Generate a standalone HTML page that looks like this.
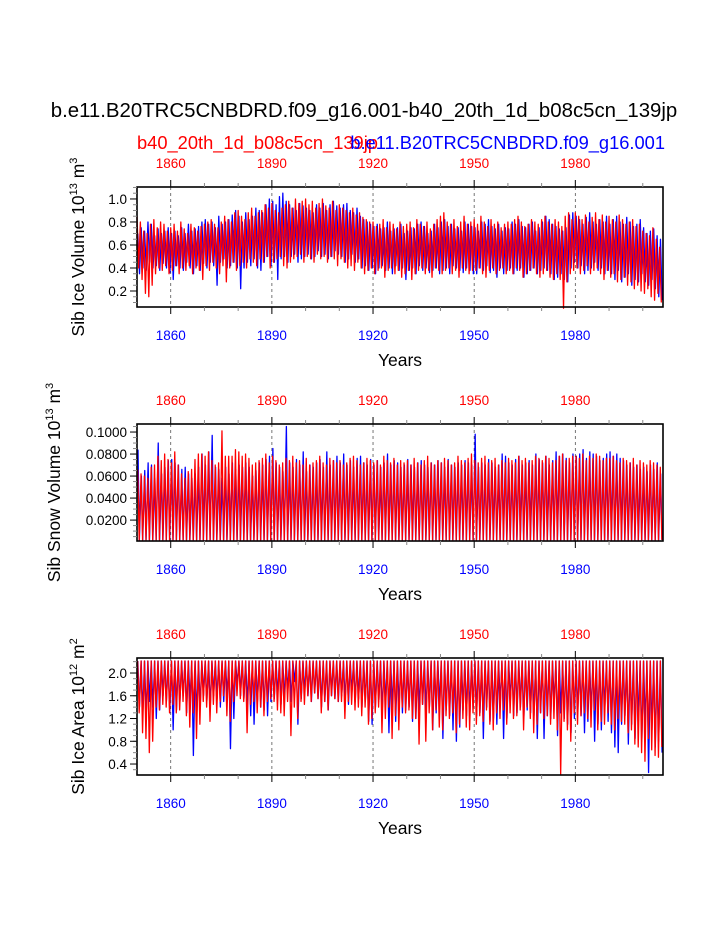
<!DOCTYPE html>
<html><head><meta charset="utf-8"><style>
html,body{margin:0;padding:0;background:#fff;}
svg{display:block;font-family:"Liberation Sans",Arial,sans-serif;}
</style></head><body>
<svg id="chart" width="723" height="935" viewBox="0 0 723 935" xmlns="http://www.w3.org/2000/svg">
<rect width="723" height="935" fill="#fff"/>
<text x="364" y="117" font-size="20.4" text-anchor="middle" fill="#000">b.e11.B20TRC5CNBDRD.f09_g16.001-b40_20th_1d_b08c5cn_139jp</text>
<text x="137" y="149" font-size="18.3" fill="#f00">b40_20th_1d_b08c5cn_139jp</text>
<text x="665" y="149" font-size="18.3" fill="#00f" text-anchor="end">b.e11.B20TRC5CNBDRD.f09_g16.001</text>
<g id="plots"></g>
</svg>
<script>
// ---------- data (annual values, 1850-2005) ----------
const years = [];
for (let y = 1850; y <= 2005; y++) years.push(y);
const xTickYears = [1860, 1890, 1920, 1950, 1980];

// Panel 1: Sib Ice Volume (x0.01), annual high / low
const volBlueHi = [70,75,72,80,78,68,74,70,72,75, 70,72,68,75,70,78,72,74,76,80, 82,78,80,75,85,78,80,82,86,90, 85,80,88,82,85,92,90,88,95,100, 98,95,102,105,98,95,92,90,96,94, 92,90,88,95,92,96,90,95,98,94, 92,95,96,90,88,92,85,82,80,78, 76,78,74,75,80,72,74,75,78,70, 72,75,74,78,80,76,70,72,78,75, 80,82,76,78,74,75,72,80,78,76, 75,72,80,78,82,76,74,78,72,75, 74,80,78,82,76,75,78,80,72,75, 80,85,82,78,76,74,72,75,86,88, 85,82,78,84,88,80,78,82,80,85, 78,82,85,80,78,84,80,76,78,82, 75,70,72,74,68,65];
const volBlueLo = [35,40,38,45,40,42,38,44,40,36, 30,42,40,38,45,40,35,42,38,44, 40,45,42,25,45,48,40,42,45,40, 22,40,45,42,48,40,38,45,50,42, 45,30,48,50,45,50,52,45,48,50, 52,48,50,55,50,52,48,50,55,52, 50,45,48,52,45,48,40,42,38,40, 35,40,42,38,40,35,42,38,40,30, 38,40,35,42,38,40,36,38,40,35, 38,40,35,42,40,38,36,40,38,35, 35,40,38,42,36,38,32,40,35,38, 40,35,38,40,32,35,38,40,35,38, 40,38,35,30,32,35,30,28,40,45, 40,42,35,38,40,45,38,40,35,38, 35,30,38,28,32,35,25,30,28,35, 28,25,30,22,15,12];
const volRedHi = [85,80,72,70,78,82,75,80,78,72, 75,78,72,80,74,70,78,75,72,76, 78,80,82,78,75,80,85,82,80,88, 90,85,82,88,92,85,88,90,95,92, 96,90,88,92,95,98,92,100,96,98, 100,95,98,92,96,100,94,92,98,90, 95,92,90,88,92,86,88,84,82,80, 80,76,78,82,75,80,78,74,80,76, 78,80,75,82,78,76,80,74,78,82, 85,88,80,78,82,76,80,85,78,80, 82,78,85,80,76,82,78,80,75,78, 80,78,82,85,80,76,78,82,80,78, 82,85,80,78,82,80,76,85,88,82, 88,85,82,86,80,84,88,82,86,80, 85,82,80,86,82,78,80,82,76,78, 72,70,68,75,65,58];
const volRedLo = [40,30,18,15,25,35,40,38,42,35, 38,42,35,40,38,42,35,40,38,30, 42,38,45,40,35,42,28,40,45,38, 42,45,40,48,45,42,48,45,50,40, 45,48,50,42,40,45,48,50,52,45, 50,48,45,52,48,50,45,50,48,42, 48,45,40,42,38,45,40,35,38,40, 35,38,40,32,38,40,35,38,32,35, 38,30,35,38,40,35,38,32,40,38, 35,38,40,35,38,32,40,38,35,38, 38,40,35,32,38,40,35,38,40,35, 38,35,40,38,32,35,38,40,35,32, 35,38,32,30,35,30,5,28,35,38, 40,35,38,42,35,38,40,35,30,38, 32,35,28,30,32,25,28,22,25,20, 18,22,15,12,18,10];

// Panel 2: Sib Snow Volume (x0.001), annual max; seasonal min
const snowBlueMax = [84,60,65,72,70,58,90,62,68,74, 75,72,70,66,68,62,58,62,68,80, 70,82,97,68,66,58,68,62,72,66, 70,68,72,68,60,65,72,70,75,78, 85,72,68,64,105,72,68,75,70,82, 64,70,68,72,75,68,82,70,74,78, 72,80,70,74,68,76,78,72,70,75, 70,74,68,72,80,70,74,72,68,70, 75,70,68,72,74,70,68,72,70,74, 72,68,75,70,68,72,70,74,72,70, 98,68,72,70,75,72,68,70,80,78, 72,70,75,78,70,72,74,70,80,75, 72,78,70,74,82,78,80,76,72,80, 78,80,84,76,82,80,78,74,76,80, 82,78,80,76,74,70,72,68,70,66, 68,64,70,66,72,62];
const snowRedMax = [66,62,60,58,68,70,78,74,80,75, 72,82,70,62,58,64,66,75,80,80, 78,82,74,70,72,101,78,78,78,84, 82,78,80,76,70,72,74,76,80,72, 78,74,70,72,76,74,78,72,74,70, 76,70,72,74,78,72,70,76,74,72, 74,70,72,76,78,74,70,72,76,74, 72,74,70,78,74,72,76,70,74,72, 74,70,76,72,70,74,78,72,70,74, 72,76,74,70,72,78,74,72,76,80, 74,72,76,78,72,74,76,70,74,72, 76,74,72,78,74,76,72,74,78,76, 74,78,76,72,74,78,80,74,76,78, 78,76,80,74,78,76,80,78,74,76, 76,78,74,72,76,74,72,76,70,74, 72,70,74,72,70,68];
const snowMin = 2;

// Panel 3: Sib Ice Area (x0.01), seasonal max; annual min
const areaMax = 221;
const areaBlueMin = [140,130,125,150,140,120,135,160,150,130, 100,135,150,160,130,150,55,125,140,160, 150,140,160,155,140,150,160,67,120,180, 160,155,145,125,110,150,140,135,125,150, 155,160,145,155,170,150,185,110,155,165, 160,150,165,155,140,150,135,160,155,150, 160,150,145,165,150,155,140,150,115,110, 140,150,130,145,95,140,115,140,130,135, 140,115,120,135,145,130,140,100,130,140, 85,135,125,100,80,105,135,125,130,140, 125,130,85,140,115,120,110,145,85,120, 150,125,130,140,120,135,130,125,85,130, 85,125,120,145,90,130,120,110,95,120, 130,125,95,115,130,80,110,100,135,115, 95,70,60,110,125,75,110,85,115,80, 110,25,100,70,80,60];
const areaRedMin = [130,95,85,60,80,140,135,145,140,130, 145,130,135,150,125,105,130,85,110,150, 140,115,145,130,150,160,125,115,150,160, 155,150,95,145,150,130,140,125,150,155, 150,135,130,125,150,90,140,120,150,145, 160,150,165,155,130,150,135,160,155,150, 150,120,150,145,135,140,125,140,110,120, 130,140,95,120,140,85,125,100,140,130, 135,120,120,75,145,80,130,100,135,105, 100,125,120,130,95,110,120,105,100,130, 110,125,115,135,110,100,130,120,135,110, 130,120,125,135,100,140,120,95,110,130, 120,125,110,120,100,22,115,100,80,130, 110,125,130,120,105,135,100,115,110,130, 110,100,120,115,110,95,100,75,70,60, 45,85,65,55,52,70];

const p1Ticks = [0.2, 0.4, 0.6, 0.8, 1.0];
const p1TickLabels = ["0.2","0.4","0.6","0.8","1.0"];
const p2Ticks = [0.02, 0.04, 0.06, 0.08, 0.10];
const p2TickLabels = ["0.0200","0.0400","0.0600","0.0800","0.1000"];
const p3Ticks = [0.4, 0.8, 1.2, 1.6, 2.0];
const p3TickLabels = ["0.4","0.8","1.2","1.6","2.0"];

// ---------- drawing ----------
const NS = "http://www.w3.org/2000/svg";
const root = document.getElementById('plots');
const X0 = 137, X1 = 663, YR0 = 1850, YR1 = 2006;
const xs = t => X0 + (t - YR0) / (YR1 - YR0) * (X1 - X0);
function mk(tag, attrs, parent) {
  const e = document.createElementNS(NS, tag);
  for (const k in attrs) e.setAttribute(k, attrs[k]);
  (parent || root).appendChild(e);
  return e;
}

function panel(cfg) {
  const g = mk('g', {});
  
  
  const ys = v => cfg.y1 - (v - cfg.vmin) / (cfg.vmax - cfg.vmin) * (cfg.y1 - cfg.y0);
  xTickYears.forEach(yr => {
    const l = mk('line', {x1: xs(yr), x2: xs(yr), y1: cfg.y0, y2: cfg.y1, stroke: '#555', 'stroke-width': 0.8, 'stroke-dasharray': '3,3'}, g);
    
    
  });
  cfg.series.forEach(s => {
    let d = '';
    years.forEach((yr, i) => {
      const a = s.hiA ? s.hiA[i] * s.k : s.hiC * s.k;
      const b = s.loA ? s.loA[i] * s.k : s.loC * s.k;
      d += (i ? 'L' : 'M') + xs(yr + s.tHi).toFixed(2) + ',' + ys(a).toFixed(2) +
           'L' + xs(yr + s.tLo).toFixed(2) + ',' + ys(b).toFixed(2);
    });
    const p = mk('path', {d: d, fill: 'none', stroke: s.color, 'stroke-width': 1.3, 'stroke-linejoin': 'round'}, g);
    
    
  });
  const fr = mk('rect', {x: X0, y: cfg.y0, width: X1 - X0, height: cfg.y1 - cfg.y0, fill: 'none', stroke: '#000', 'stroke-width': 1.6}, g);
  
  
  for (let yr = 1860; yr <= 2000; yr += 10) {
    const major = (yr - 1860) % 30 === 0;
    const len = major ? 7 : 4;
    const c = major ? '#000' : '#888';
    mk('line', {x1: xs(yr), x2: xs(yr), y1: cfg.y1, y2: cfg.y1 + len, stroke: c, 'stroke-width': 1}, g);
    mk('line', {x1: xs(yr), x2: xs(yr), y1: cfg.y0, y2: cfg.y0 - len, stroke: c, 'stroke-width': 1}, g);
  }
  xTickYears.forEach(yr => {
    const t1 = mk('text', {x: xs(yr), y: cfg.y1 + 33, 'font-size': 13.5, 'text-anchor': 'middle', fill: '#00f'}, g);
    t1.textContent = yr;
    
    
    const t2 = mk('text', {x: xs(yr), y: cfg.y0 - 19, 'font-size': 13.5, 'text-anchor': 'middle', fill: '#f00'}, g);
    t2.textContent = yr;
    
    
  });
  for (let v = cfg.minorStart; v <= cfg.vmax + 1e-9; v += cfg.minorStep) {
    if (v < cfg.vmin) continue;
    mk('line', {x1: X0, x2: X0 - 4, y1: ys(v), y2: ys(v), stroke: '#888', 'stroke-width': 1}, g);
  }
  cfg.ticks.forEach((v, i) => {
    mk('line', {x1: X0, x2: X0 - 7, y1: ys(v), y2: ys(v), stroke: '#000', 'stroke-width': 1}, g);
    const t = mk('text', {x: X0 - 10, y: ys(v) + 5, 'font-size': 13.5, 'text-anchor': 'end', fill: '#000'}, g);
    t.textContent = cfg.tickLabels[i];
    
    
  });
  const xt = mk('text', {x: 400, y: cfg.y1 + 59, 'font-size': 17.5, 'text-anchor': 'middle', fill: '#000'}, g);
  xt.textContent = 'Years';
  
  
  const cy = (cfg.y0 + cfg.y1) / 2;
  const yt = mk('text', {x: 0, y: 0, 'font-size': 17.5, 'text-anchor': 'middle', fill: '#000', transform: 'translate(' + cfg.ytx + ',' + cy + ') rotate(-90)'}, g);
  yt.innerHTML = cfg.ytitle + ' 10<tspan dy="-7" font-size="11">' + cfg.exp + '</tspan><tspan dy="7"> m</tspan><tspan dy="-7" font-size="11">' + cfg.unitExp + '</tspan>';
  
  
}

panel({name: 'ice-volume-panel', y0: 187, y1: 307, vmin: 0.061, vmax: 1.104, ticks: p1Ticks, tickLabels: p1TickLabels,
  minorStart: 0.05, minorStep: 0.05, ytitle: 'Sib Ice Volume', exp: '13', unitExp: '3', ytx: 84,
  series: [
    {name: 'ice-volume-blue-line', color: '#00f', hiA: volBlueHi, loA: volBlueLo, k: 0.01, tHi: 0.25, tLo: 0.75},
    {name: 'ice-volume-red-line', color: '#f00', hiA: volRedHi, loA: volRedLo, k: 0.01, tHi: 0.0, tLo: 0.5}
  ]});
panel({name: 'snow-volume-panel', y0: 424, y1: 541, vmin: 0.001, vmax: 0.1073, ticks: p2Ticks, tickLabels: p2TickLabels,
  minorStart: 0.005, minorStep: 0.005, ytitle: 'Sib Snow Volume', exp: '13', unitExp: '3', ytx: 60,
  series: [
    {name: 'snow-volume-blue-line', color: '#00f', hiA: snowBlueMax, loC: snowMin, k: 0.001, tHi: 0.3, tLo: 0.7},
    {name: 'snow-volume-red-line', color: '#f00', hiA: snowRedMax, loC: snowMin, k: 0.001, tHi: 0.2, tLo: 0.65}
  ]});
panel({name: 'ice-area-panel', y0: 658, y1: 775, vmin: 0.207, vmax: 2.264, ticks: p3Ticks, tickLabels: p3TickLabels,
  minorStart: 0.3, minorStep: 0.1, ytitle: 'Sib Ice Area', exp: '12', unitExp: '2', ytx: 84,
  series: [
    {name: 'ice-area-blue-line', color: '#00f', hiC: areaMax, loA: areaBlueMin, k: 0.01, tHi: 0.25, tLo: 0.72},
    {name: 'ice-area-red-line', color: '#f00', hiC: areaMax, loA: areaRedMin, k: 0.01, tHi: 0.2, tLo: 0.65}
  ]});
</script>
</body></html>
